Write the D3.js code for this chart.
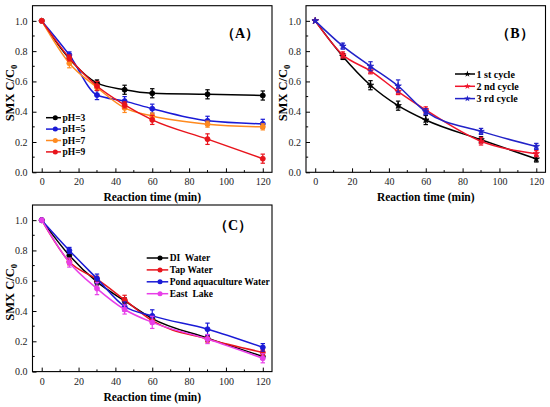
<!DOCTYPE html>
<meta charset="utf-8">
<script src="https://cdnjs.cloudflare.com/ajax/libs/d3/7.8.5/d3.min.js"></script>
<style>
body { margin: 0; background: #fff; }
text { font-family: "Liberation Serif", "Times New Roman", serif; }
.tick-label { font-size: 10px; }
.axis-title { font-size: 11.5px; font-weight: bold; }
.y-title { font-size: 12.5px; font-weight: bold; }
.panel-label { font-size: 14px; font-weight: bold; }
.legend text { font-weight: bold; white-space: pre; }
</style>
<body>
<script>

// reaction time (min)
var times = [0, 15, 30, 45, 60, 90, 120];

// panel A: pH effect
var phNames = ["pH=3", "pH=5", "pH=7", "pH=9"];
var ph3 = [1.0, 0.75, 0.59, 0.545, 0.522, 0.515, 0.507];
var ph5 = [1.0, 0.775, 0.51, 0.47, 0.42, 0.34, 0.32];
var ph7 = [1.0, 0.72, 0.56, 0.425, 0.372, 0.318, 0.30];
var ph9 = [1.0, 0.755, 0.57, 0.445, 0.346, 0.219, 0.09];
var ph3Err = [0, 0.02, 0.02, 0.03, 0.03, 0.03, 0.03];
var ph5Err = [0, 0.02, 0.03, 0.03, 0.03, 0.03, 0.03];
var ph7Err = [0, 0.03, 0.02, 0.03, 0.02, 0.02, 0.02];
var ph9Err = [0, 0.02, 0.03, 0.02, 0.03, 0.035, 0.03];

// panel B: reuse cycles
var cycleNames = ["1 st cycle", "2 nd cycle", "3 rd cycle"];
var cycle1 = [1.0, 0.765, 0.575, 0.44, 0.345, 0.215, 0.088];
var cycle2 = [1.0, 0.775, 0.67, 0.533, 0.412, 0.205, 0.123];
var cycle3 = [1.0, 0.833, 0.70, 0.57, 0.40, 0.27, 0.171];
var cycle1Err = [0, 0.02, 0.03, 0.03, 0.03, 0.02, 0.02];
var cycle2Err = [0, 0.02, 0.02, 0.02, 0.02, 0.025, 0.02];
var cycle3Err = [0, 0.02, 0.03, 0.04, 0.02, 0.02, 0.02];

// panel C: water matrices
var waterNames = ["DI  Water", "Tap Water", "Pond aquaculture Water", "East  Lake"];
var diWater = [1.0, 0.767, 0.592, 0.467, 0.35, 0.221, 0.10];
var tapWater = [1.0, 0.725, 0.61, 0.474, 0.336, 0.215, 0.127];
var pondWater = [1.0, 0.80, 0.614, 0.43, 0.368, 0.28, 0.16];
var eastLake = [1.0, 0.72, 0.548, 0.41, 0.325, 0.215, 0.088];
var diErr = [0, 0.02, 0.02, 0.02, 0.02, 0.02, 0.02];
var tapErr = [0, 0.02, 0.02, 0.03, 0.02, 0.02, 0.02];
var pondErr = [0, 0.02, 0.03, 0.03, 0.04, 0.04, 0.025];
var lakeErr = [0, 0.03, 0.04, 0.03, 0.04, 0.03, 0.03];

var xTicks = [0, 20, 40, 60, 80, 100, 120];
var yTicks = [0, 0.2, 0.4, 0.6, 0.8, 1.0];

var width = 550, height = 407;

var svg = d3.select("body").append("svg")
    .attr("width", width)
    .attr("height", height);

var panels = [
  {
    label: "（A）", left: 32.5, top: 5.7, labelX: 240, labelY: 38,
    names: phNames, values: [ph3, ph5, ph7, ph9], errs: [ph3Err, ph5Err, ph7Err, ph9Err],
    colors: ["#000000", "#1a1ad6", "#ff8a1f", "#e8141c"], symbol: "circle",
    legend: { x: 46, y: 117.7, dy: 11.4, line: 15, size: 9.5 }
  },
  {
    label: "（B）", left: 306, top: 5.7, labelX: 515, labelY: 38,
    names: cycleNames, values: [cycle1, cycle2, cycle3], errs: [cycle1Err, cycle2Err, cycle3Err],
    colors: ["#000000", "#f0142a", "#2222c8"], symbol: "star",
    legend: { x: 455, y: 74, dy: 12.3, line: 20, size: 10 }
  },
  {
    label: "（C）", left: 32.5, top: 205, labelX: 233, labelY: 230,
    names: waterNames, values: [diWater, tapWater, pondWater, eastLake], errs: [diErr, tapErr, pondErr, lakeErr],
    colors: ["#000000", "#e8141c", "#1a1ad6", "#e83ee8"], symbol: "circle",
    legend: { x: 146.7, y: 258, dy: 11.9, line: 21.5, size: 9.5 }
  }
];

panels.forEach(drawPanel);

function drawPanel(p) {
  var w = 239.5, h = 166.6;
  var g = svg.append("g").attr("transform", "translate(" + p.left + "," + p.top + ")");

  var x = d3.scaleLinear().domain([-5, 125]).range([0, w]);
  var y = d3.scaleLinear().domain([0, 1.1]).range([h, 0]);

  // frame
  g.append("rect")
      .attr("width", w).attr("height", h)
      .attr("fill", "none").attr("stroke", "#000").attr("stroke-width", 1.1);

  // axes, ticks inside
  var xAxis = d3.axisBottom(x).tickValues(xTicks).tickSizeInner(-4).tickSizeOuter(0).tickPadding(6);
  var gx = g.append("g").attr("transform", "translate(0," + h + ")").call(xAxis);
  var yAxis = d3.axisLeft(y).tickValues(yTicks).tickFormat(d3.format(".1f")).tickSizeInner(-4).tickSizeOuter(0).tickPadding(5);
  var gy = g.append("g").call(yAxis);
  [gx, gy].forEach(function(a) {
    a.select(".domain").remove();
    a.selectAll("text").attr("class", "tick-label").attr("font-family", null).attr("font-size", null).attr("fill", "#222");
    a.selectAll("line").attr("stroke-width", 1);
  });

  // minor ticks
  g.append("g").selectAll("line")
      .data(d3.range(10, 120, 20))
      .enter().append("line")
      .attr("x1", x).attr("x2", x)
      .attr("y1", h).attr("y2", h - 2.2)
      .attr("stroke", "#000");
  g.append("g").selectAll("line")
      .data([0.1, 0.3, 0.5, 0.7, 0.9])
      .enter().append("line")
      .attr("x1", 0).attr("x2", 2.2)
      .attr("y1", y).attr("y2", y)
      .attr("stroke", "#000");

  // titles
  g.append("text")
      .attr("class", "axis-title")
      .attr("x", w / 2).attr("y", h + 29)
      .attr("text-anchor", "middle")
      .text("Reaction time (min)");
  var yt = g.append("text")
      .attr("class", "y-title")
      .attr("transform", "translate(" + (-19) + "," + (h / 2 + 4) + ") rotate(-90)")
      .attr("text-anchor", "middle");
  yt.append("tspan").text("SMX C/C");
  yt.append("tspan").attr("font-size", "8.5px").attr("dy", 3).text("0");

  svg.append("text")
      .attr("class", "panel-label")
      .attr("x", p.labelX).attr("y", p.labelY)
      .attr("text-anchor", "middle")
      .attr("font-family", "'Noto Sans CJK SC', 'Liberation Serif', serif")
      .text(p.label);

  var line = d3.line()
      .x(function(d) { return x(d[0]); })
      .y(function(d) { return y(d[1]); })
      .curve(d3.curveMonotoneX);

  var sym = d3.symbol()
      .type(p.symbol === "star" ? d3.symbolStar : d3.symbolCircle)
      .size(p.symbol === "star" ? 13 : 20);

  p.values.forEach(function(vals, i) {
    var c = p.colors[i];
    var pts = times.map(function(t, k) { return [t, vals[k], p.errs[i][k]]; });
    var s = g.append("g");

    s.append("path")
        .datum(pts)
        .attr("d", line)
        .attr("fill", "none")
        .attr("stroke", c)
        .attr("stroke-width", 1.5);

    var eb = s.selectAll(".err")
        .data(pts.filter(function(d) { return d[2] > 0; }))
        .enter().append("g")
        .attr("stroke", c).attr("stroke-width", 1.2);
    eb.append("line")
        .attr("x1", function(d) { return x(d[0]); })
        .attr("x2", function(d) { return x(d[0]); })
        .attr("y1", function(d) { return y(d[1] - d[2]); })
        .attr("y2", function(d) { return y(d[1] + d[2]); });
    eb.append("line")
        .attr("x1", function(d) { return x(d[0]) - 2.2; })
        .attr("x2", function(d) { return x(d[0]) + 2.2; })
        .attr("y1", function(d) { return y(d[1] - d[2]); })
        .attr("y2", function(d) { return y(d[1] - d[2]); });
    eb.append("line")
        .attr("x1", function(d) { return x(d[0]) - 2.2; })
        .attr("x2", function(d) { return x(d[0]) + 2.2; })
        .attr("y1", function(d) { return y(d[1] + d[2]); })
        .attr("y2", function(d) { return y(d[1] + d[2]); });

    s.selectAll(".mk")
        .data(pts)
        .enter().append("path")
        .attr("transform", function(d) { return "translate(" + x(d[0]) + "," + y(d[1]) + ")"; })
        .attr("d", sym)
        .attr("fill", c)
        .attr("stroke", c)
        .attr("stroke-width", 0.8);
  });

  // legend
  var L = p.legend;
  var lg = svg.append("g").attr("class", "legend");
  p.names.forEach(function(name, i) {
    var ly = L.y + i * L.dy;
    lg.append("line")
        .attr("x1", L.x).attr("x2", L.x + L.line)
        .attr("y1", ly).attr("y2", ly)
        .attr("stroke", p.colors[i]).attr("stroke-width", 1.5);
    lg.append("path")
        .attr("transform", "translate(" + (L.x + L.line * 0.62) + "," + ly + ")")
        .attr("d", sym)
        .attr("fill", p.colors[i]);
    lg.append("text")
        .attr("x", L.x + L.line + 1.5).attr("y", ly + L.size * 0.35)
        .attr("font-size", L.size + "px")
        .attr("xml:space", "preserve")
        .text(name);
  });
}

</script>
